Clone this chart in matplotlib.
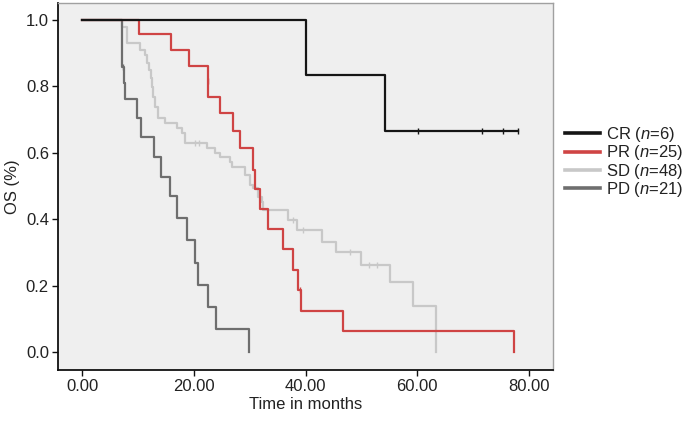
import matplotlib
matplotlib.use("Agg")
import matplotlib.pyplot as plt

plt.rcParams['font.family'] = ['Liberation Sans', 'DejaVu Sans']
plt.rcParams['mathtext.fontset'] = 'custom'
plt.rcParams['mathtext.rm'] = 'Liberation Sans'
plt.rcParams['mathtext.it'] = 'Liberation Sans:italic'

# Kaplan-Meier curves (time in months, survival)
cr_t = [40.0, 54.3]
cr_s = [0.833, 0.667]
cr_end = 78.0
cr_cens_t = [60.2, 71.6, 75.4, 78.0]
cr_cens_s = [0.667, 0.667, 0.667, 0.667]

pr_t = [10.26, 15.94, 19.21, 22.61, 24.71, 26.98, 28.29, 30.56, 30.98, 31.87,
        33.36, 36.04, 37.73, 38.73, 39.16, 46.68, 77.35]
pr_s = [0.959, 0.908, 0.862, 0.769, 0.719, 0.666, 0.614, 0.548, 0.491, 0.431,
        0.371, 0.310, 0.247, 0.187, 0.123, 0.062, 0.0]
pr_cens_t = [22.6, 39.0]
pr_cens_s = [0.816, 0.187]

sd_t = [7.11, 8.00, 10.38, 11.28, 11.69, 12.00, 12.26, 12.53, 12.77, 13.07,
        13.66, 14.86, 16.96, 17.85, 18.44, 22.33, 23.81, 24.71, 26.50, 26.86,
        29.19, 30.08, 30.62, 31.51, 32.18, 32.46, 36.94, 38.44, 42.92, 45.53,
        50.01, 55.15, 59.32, 63.30]
sd_s = [0.980, 0.930, 0.910, 0.895, 0.870, 0.849, 0.825, 0.798, 0.769, 0.739,
        0.705, 0.690, 0.675, 0.659, 0.629, 0.614, 0.599, 0.587, 0.572, 0.557,
        0.533, 0.503, 0.494, 0.467, 0.452, 0.428, 0.398, 0.367, 0.332, 0.300,
        0.262, 0.212, 0.139, 0.0]
sd_cens_t = [20.2, 21.0, 37.8, 39.5, 47.9, 51.3, 52.8]
sd_cens_s = [0.629, 0.629, 0.398, 0.367, 0.300, 0.262, 0.262]

pd_t = [7.11, 7.52, 7.70, 9.76, 10.56, 12.89, 14.15, 15.76, 16.92, 18.71,
        20.29, 20.77, 22.56, 23.90, 29.94]
pd_s = [0.857, 0.810, 0.762, 0.706, 0.649, 0.586, 0.528, 0.471, 0.403, 0.336,
        0.269, 0.203, 0.136, 0.068, 0.0]
pd_cens_t = [7.3]
pd_cens_s = [0.857]

labels = [r'CR ($n$=6)', r'PR ($n$=25)', r'SD ($n$=48)', r'PD ($n$=21)']
colors = ['#151515', '#cf4444', '#c8c8c8', '#6e6e6e']
xticks = [0, 20, 40, 60, 80]
yticks = [0.0, 0.2, 0.4, 0.6, 0.8, 1.0]

fig = plt.figure(figsize=(6.88, 4.22), dpi=100)
ax = fig.add_axes([58/688, 1-370/422, (553-58)/688, (370-3)/422])
ax.set_facecolor('#efefef')

curves = [
    (cr_t, cr_s, cr_end, cr_cens_t, cr_cens_s),
    (pr_t, pr_s, None, pr_cens_t, pr_cens_s),
    (sd_t, sd_s, None, sd_cens_t, sd_cens_s),
    (pd_t, pd_s, None, pd_cens_t, pd_cens_s),
]
# draw light ones first so dark lines sit on top
order = [2, 3, 1, 0]
handles = [None]*4
for i in order:
    t, s, end, ct, cs = curves[i]
    xs = [0] + t
    ys = [1.0] + s
    if end is not None:
        xs = xs + [end]
        ys = ys + [s[-1]]
    h, = ax.step(xs, ys, where='post', color=colors[i], lw=1.6, label=labels[i])
    ax.plot(ct, cs, '|', color=colors[i], ms=5, mew=1.0)
    handles[i] = h

ax.set_xlim(-4.3, 84.3)
ax.set_ylim(-0.054, 1.051)
ax.set_xticks(xticks)
ax.set_xticklabels(['%.2f' % v for v in xticks])
ax.set_yticks(yticks)
ax.set_yticklabels(['%.1f' % v for v in yticks])
ax.tick_params(direction='out', length=4.5, width=1, pad=2, labelsize=12,
               colors='#111111', labelcolor='#222222')
for side in ['left', 'bottom']:
    ax.spines[side].set_color('#111111')
    ax.spines[side].set_linewidth(1.3)
for side in ['top', 'right']:
    ax.spines[side].set_color('#a0a0a0')
    ax.spines[side].set_linewidth(1.0)

ax.set_xlabel('Time in months', fontsize=12, color='#222222', labelpad=2)
ax.set_ylabel('OS (%)', fontsize=12, color='#222222', labelpad=4)

leg = fig.legend(handles, labels, loc='center left', bbox_to_anchor=(565/688, 1-162/422),
                 frameon=False, fontsize=12, handlelength=2.1, handletextpad=0.35,
                 labelspacing=-0.05, borderpad=0, borderaxespad=0)
for line in leg.get_lines():
    line.set_linewidth(2.6)
for txt in leg.get_texts():
    txt.set_color('#222222')

fig.savefig('out.png', dpi=100)
